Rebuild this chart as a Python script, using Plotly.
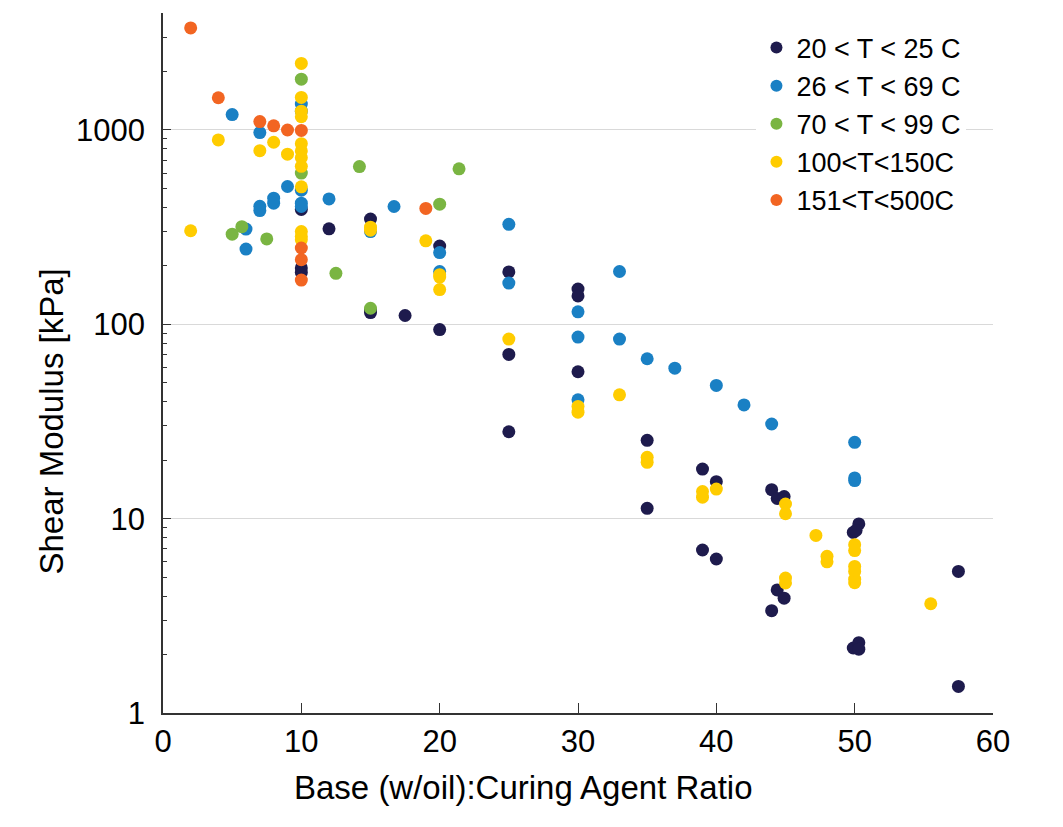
import plotly.graph_objects as go

# Shear modulus vs base:curing agent ratio, grouped by temperature band
NAMES = ["20 < T < 25 C", "26 < T < 69 C", "70 < T < 99 C", "100<T<150C", "151<T<500C"]
COLORS = ["#1e1b4d", "#1a80c4", "#7ab542", "#ffcc00", "#f26522"]

X_TITLE = "Base (w/oil):Curing Agent Ratio"
Y_TITLE = "Shear Modulus [kPa]"

navy_x = [10, 10, 10, 12, 15, 15, 15, 17.5, 20, 20, 25, 25, 25, 30, 30, 30,
          35, 35, 39, 40, 39, 40, 44, 44.4, 44.9, 44.4, 44.9, 44,
          50.3, 49.9, 50.1, 49.9, 50.3, 50.3, 57.5, 57.5]
navy_y = [390, 195, 185, 310, 348, 118, 115, 111, 253, 94, 186, 70, 28, 152, 140, 57,
          25.3, 11.3, 18, 15.5, 6.9, 6.2, 14.1, 12.7, 13.0, 4.3, 3.9, 3.36,
          9.4, 8.5, 8.7, 2.16, 2.3, 2.13, 5.35, 1.37]

blue_x = [5, 7, 9, 10, 10, 10, 10, 10, 6, 6, 7, 7, 8, 8, 12, 15, 16.7, 20, 20,
          25, 25, 33, 30, 30, 33, 35, 37, 40, 42, 44, 50, 50, 50, 30]
blue_y = [1200, 970, 512, 1360, 1250, 490, 420, 404, 309, 244, 405, 385, 446, 420,
          442, 300, 404, 234, 187, 327, 163, 187, 116, 86, 84, 66.5, 59.5, 48.5,
          38.5, 30.7, 24.7, 16.2, 15.7, 40.9]

green_x = [10, 10, 14.2, 21.4, 20, 12.5, 15, 5, 5.7, 7.5]
green_y = [1825, 600, 648, 631, 415, 183, 121, 291, 318, 275]

yellow_x = [2, 4, 7, 8, 9, 10, 10, 10, 10, 10, 10, 10, 10, 10, 10, 10, 10,
            15, 15, 19, 20, 20, 20, 25, 30, 30, 33, 35, 35, 39, 39, 40,
            45, 45, 45, 45, 47.2, 48, 48, 50, 50, 50, 50, 50, 50, 55.5]
yellow_y = [303, 889, 783, 865, 751, 2200, 1470, 1250, 1170, 850, 780, 720, 650, 510, 300, 283, 272,
            316, 305, 269, 180, 175, 151, 84, 37.8, 35.3, 43.4, 20.7, 19.5, 13.8, 12.9, 14.2,
            11.9, 10.6, 4.95, 4.67, 8.2, 6.4, 6.0, 7.35, 6.85, 5.68, 5.35, 4.88, 4.68, 3.65]

orange_x = [2, 4, 7, 8, 9, 10, 10, 10, 10, 19]
orange_y = [3350, 1465, 1105, 1050, 1000, 995, 247, 215, 169, 395]

FONT = "Arial, Liberation Sans, sans-serif"


def main():
    groups = [(navy_x, navy_y), (blue_x, blue_y), (green_x, green_y),
              (yellow_x, yellow_y), (orange_x, orange_y)]

    fig = go.Figure()
    for (xs, ys), name, color in zip(groups, NAMES, COLORS):
        fig.add_trace(go.Scatter(
            x=xs, y=ys, mode="markers", name=name,
            marker=dict(color=color, size=13, line=dict(width=0)),
        ))

    # page body has an 8px margin, so the figure is sized/offset to compensate
    fig.update_layout(
        width=1055, height=819,
        margin=dict(l=155, r=70, t=5, b=114),
        paper_bgcolor="white", plot_bgcolor="white",
        font=dict(family=FONT, size=32, color="black"),
        showlegend=True,
        legend=dict(
            x=0.715, y=0.985, xanchor="left", yanchor="top",
            bgcolor="white", font=dict(size=27), itemsizing="constant",
            tracegroupgap=0,
        ),
    )

    # axis titles sit off-centre in the original, so place them as annotations
    fig.add_annotation(
        text=X_TITLE, xref="paper", yref="paper", x=0.434, y=-0.106,
        xanchor="center", yanchor="middle", showarrow=False, font=dict(size=33),
    )
    fig.add_annotation(
        text=Y_TITLE, xref="paper", yref="paper", x=-0.134, y=0.416,
        xanchor="center", yanchor="middle", textangle=-90, showarrow=False,
        font=dict(size=33),
    )

    fig.update_xaxes(
        range=[0, 60], dtick=10, showgrid=False, zeroline=False,
        showline=True, linecolor="#333333", linewidth=1.5,
        ticks="inside", ticklen=10, tickcolor="#333333",
        tickfont=dict(size=31),
    )
    fig.update_yaxes(
        type="log", range=[0, 3.602], dtick=1,
        tickvals=[1, 10, 100, 1000], ticktext=["1", "10", "100", "1000"],
        showgrid=True, gridcolor="#d9d9d9", gridwidth=1, zeroline=False,
        showline=True, linecolor="#333333", linewidth=1.5,
        ticks="inside", ticklen=8, tickcolor="#333333",
        minor=dict(ticks="inside", ticklen=4, tickcolor="#333333", dtick="D1", showgrid=False),
        tickfont=dict(size=31), ticklabelstandoff=10,
    )

    fig.write_html("out.html")


if __name__ == "__main__":
    main()
